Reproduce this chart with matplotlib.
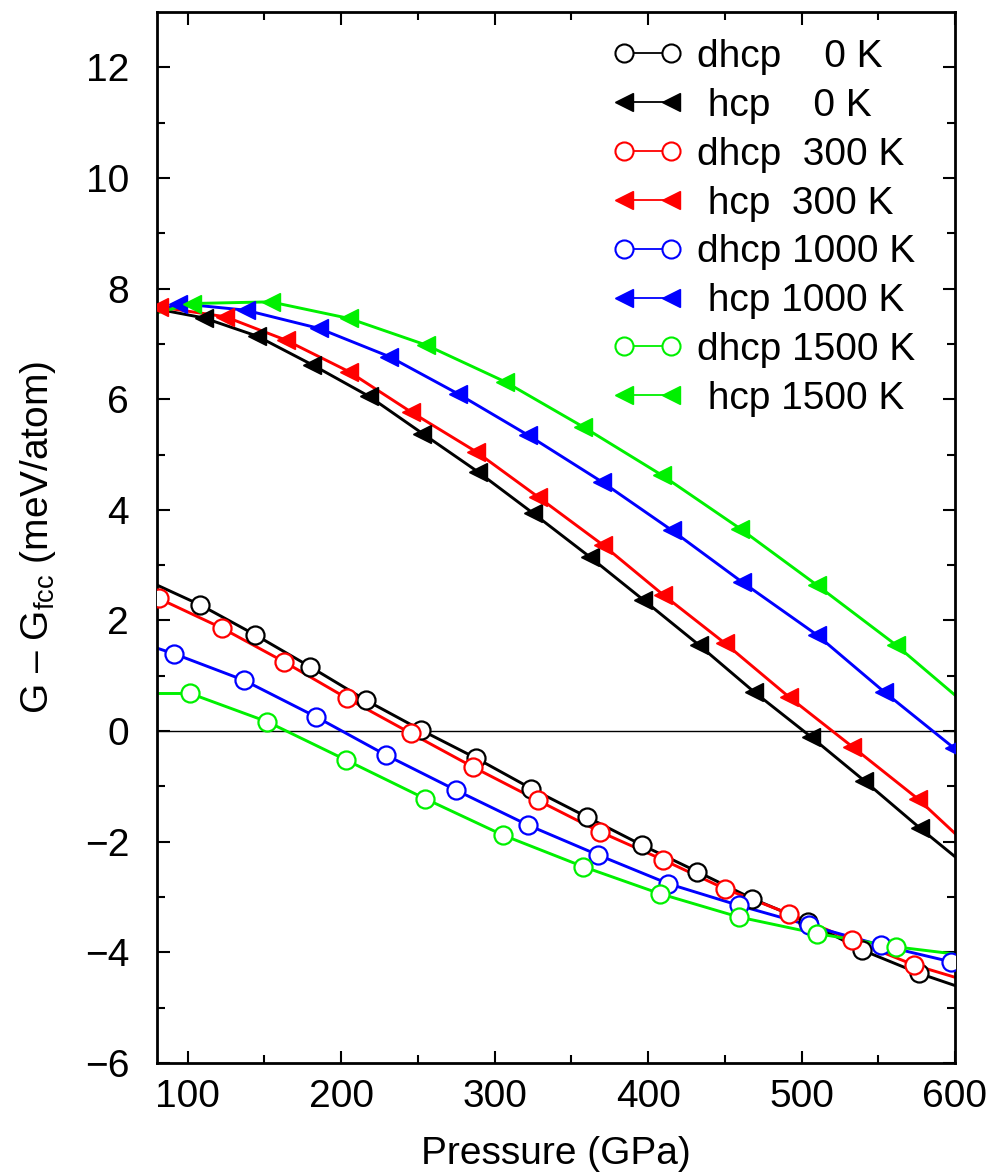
import numpy as np
import matplotlib
matplotlib.use("Agg")
import matplotlib.pyplot as plt

plt.rcParams['font.family'] = ['Liberation Sans', 'DejaVu Sans']
plt.rcParams['mathtext.fontset'] = 'custom'
plt.rcParams['mathtext.rm'] = 'Liberation Sans'
plt.rcParams['mathtext.it'] = 'Liberation Sans'

# ---------------- data (pressure in GPa, G - Gfcc in meV/atom) ----------------
P_LEFT, P_RIGHT = 80, 600

# hcp series (filled left triangles)
hcp0_p = [110.5, 145.3, 181.3, 218.3, 253, 289, 325, 362, 397, 433, 469, 506, 541, 577]
hcp0_g = [7.47, 7.14, 6.62, 6.05, 5.38, 4.69, 3.94, 3.15, 2.37, 1.56, 0.71, -0.10, -0.90, -1.75]
hcp0_ends = (7.63, -2.27)

hcp300_p = [81, 124.6, 163.8, 205, 245.5, 288, 328, 370.8, 410, 450, 491.7, 533, 575.6]
hcp300_g = [7.67, 7.49, 7.07, 6.50, 5.77, 5.05, 4.24, 3.36, 2.46, 1.59, 0.62, -0.28, -1.22]
hcp300_ends = (7.67, -1.85)

hcp1000_p = [94, 137.7, 185.6, 231.4, 276, 321.8, 369.7, 415.5, 461, 510, 553.8, 599.5]
hcp1000_g = [7.73, 7.61, 7.28, 6.77, 6.10, 5.35, 4.51, 3.63, 2.70, 1.74, 0.71, -0.31]
hcp1000_ends = (7.58, -0.33)

hcp1500_p = [102.8, 154, 205.2, 255.3, 306.5, 357.7, 408.8, 460, 510, 561.4]
hcp1500_g = [7.73, 7.76, 7.46, 6.98, 6.32, 5.50, 4.63, 3.66, 2.64, 1.56]
hcp1500_ends = (7.56, 0.65)

# dhcp series (open circles)
dhcp0_p = [108.3, 144, 180, 216, 252, 288, 324, 360, 396, 432, 468, 504, 539.6, 576.7]
dhcp0_g = [2.28, 1.74, 1.16, 0.56, 0.02, -0.49, -1.04, -1.55, -2.06, -2.54, -3.03, -3.45, -3.96, -4.38]
dhcp0_ends = (2.64, -4.60)

dhcp300_p = [81, 122.5, 163, 204, 245.5, 286, 328, 368.6, 410, 450, 491.7, 533, 573.5]
dhcp300_g = [2.40, 1.86, 1.25, 0.59, -0.04, -0.65, -1.25, -1.82, -2.33, -2.85, -3.30, -3.78, -4.23]
dhcp300_ends = (2.42, -4.45)

dhcp1000_p = [91, 136.6, 183.5, 229, 275, 321.8, 367.5, 413.3, 459, 504.8, 551.6, 597.4]
dhcp1000_g = [1.40, 0.92, 0.26, -0.43, -1.07, -1.70, -2.24, -2.76, -3.15, -3.51, -3.87, -4.17]
dhcp1000_ends = (1.50, -4.20)

dhcp1500_p = [101.7, 151.8, 203, 254.6, 305.4, 357.7, 407.8, 459, 510, 561.4]
dhcp1500_g = [0.68, 0.17, -0.52, -1.22, -1.88, -2.45, -2.94, -3.36, -3.66, -3.90]
dhcp1500_ends = (0.68, -4.03)

labels = ["dhcp    0 K", " hcp    0 K", "dhcp  300 K", " hcp  300 K",
          "dhcp 1000 K", " hcp 1000 K", "dhcp 1500 K", " hcp 1500 K"]
colors = ["#000000", "#000000", "#ff0000", "#ff0000",
          "#0000ff", "#0000ff", "#00f000", "#00f000"]

series = [
    (dhcp0_p, dhcp0_g, dhcp0_ends, 'o'),
    (hcp0_p, hcp0_g, hcp0_ends, '<'),
    (dhcp300_p, dhcp300_g, dhcp300_ends, 'o'),
    (hcp300_p, hcp300_g, hcp300_ends, '<'),
    (dhcp1000_p, dhcp1000_g, dhcp1000_ends, 'o'),
    (hcp1000_p, hcp1000_g, hcp1000_ends, '<'),
    (dhcp1500_p, dhcp1500_g, dhcp1500_ends, 'o'),
    (hcp1500_p, hcp1500_g, hcp1500_ends, '<'),
]

FS = 28

# ---------------- figure ----------------
W, H = 992, 1173
fig = plt.figure(figsize=(W / 100, H / 100), dpi=100)
ax = fig.add_axes([157 / W, 1 - 1063 / H, (955 - 157) / W, (1063 - 12) / H])

ax.axhline(0, color='black', lw=1.0, zorder=1)

handles = []
for (p, g, ends, mk), lab, col in zip(series, labels, colors):
    xs = [P_LEFT] + list(p) + [P_RIGHT]
    ys = [ends[0]] + list(g) + [ends[1]]
    ax.plot(xs, ys, '-', color=col, lw=2.1, zorder=2)
    if mk == 'o':
        ax.plot(p, g, 'o', ms=13, mfc='white', mec=col, mew=1.6, ls='none', zorder=3)
        h, = ax.plot([], [], '-', marker='o', color=col, lw=1.3, ms=13, mfc='white', mec=col, mew=1.5)
    else:
        ax.plot(p, g, '<', ms=13, mfc=col, mec=col, mew=1.0, ls='none', zorder=3)
        h, = ax.plot([], [], '-', marker='<', color=col, lw=1.3, ms=13, mfc=col, mec=col)
    handles.append(h)

ax.set_xlim(P_LEFT, P_RIGHT)
ax.set_ylim(-6, 13)
ax.set_xticks([100, 200, 300, 400, 500, 600])
ax.set_xticks(np.arange(150, 600, 100), minor=True)
ax.set_yticks(np.arange(-6, 13, 2))
ax.set_yticks(np.arange(-5, 13, 2), minor=True)

for s in ax.spines.values():
    s.set_linewidth(2.0)
ax.tick_params(which='both', direction='in', top=True, right=True, width=1.5)
ax.tick_params(which='major', length=9)
ax.tick_params(which='minor', length=6)
ax.tick_params(axis='x', which='major', labelsize=FS, pad=11.5)
ax.tick_params(axis='y', which='major', labelsize=FS, pad=20)

ax.set_xlabel("Pressure (GPa)", fontsize=FS, labelpad=15)
ax.set_ylabel("G \u2013 G$_{\\mathrm{fcc}}$ (meV/atom)", fontsize=FS, labelpad=19)

handlelength = (34 + 0.6 * FS) / FS
leg = ax.legend(handles, labels, loc='upper left',
                bbox_to_anchor=(612 / W, 1 - 39 / H), bbox_transform=fig.transFigure,
                frameon=False, fontsize=FS, numpoints=2, handlelength=handlelength,
                handletextpad=0.38, labelspacing=0.33, borderpad=0, borderaxespad=0)

fig.savefig("out.png", dpi=100)
